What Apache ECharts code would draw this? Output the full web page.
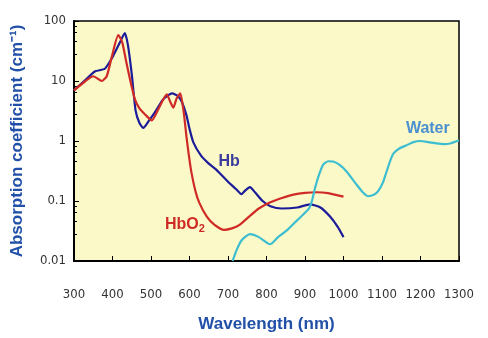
<!DOCTYPE html>
<html>
<head>
<meta charset="utf-8">
<script src="https://cdn.jsdelivr.net/npm/echarts@6/dist/echarts.min.js"></script>
<style>
  html, body { margin: 0; padding: 0; background: #fff; }
  #chart { width: 488px; height: 338px; }
</style>
</head>
<body>
<div id="chart"></div>
<script>
// wavelength (nm) / absorption coefficient (cm-1)
const hb = [
  [300, 7], [330, 10.5], [355, 14.5], [380, 16], [400, 25], [420, 45], [432, 63], [440, 40],
  [450, 13], [460, 3.2], [470, 2], [480, 1.65], [495, 2.2], [510, 3], [530, 4.8], [545, 5.8],
  [555, 6.2], [570, 5.6], [580, 4.5], [592, 2.7], [600, 1.6], [610, 0.95], [630, 0.57],
  [650, 0.42], [670, 0.33], [700, 0.21], [720, 0.16], [735, 0.13], [745, 0.15], [757, 0.17],
  [770, 0.14], [790, 0.1], [810, 0.082], [840, 0.075], [880, 0.078], [913, 0.088],
  [940, 0.078], [965, 0.055], [985, 0.037], [1000, 0.025]
];
const hbo2 = [
  [300, 7], [330, 10], [350, 12], [372, 10], [385, 12], [398, 25], [415, 58], [425, 45],
  [435, 22], [445, 11], [458, 5], [470, 3.5], [484, 2.8], [502, 2.2], [520, 3.5], [541, 6],
  [550, 4.5], [558, 3.6], [567, 5.2], [576, 6.2], [585, 3], [592, 1.2], [598, 0.6],
  [605, 0.3], [615, 0.15], [625, 0.095], [645, 0.055], [665, 0.04], [690, 0.033],
  [710, 0.035], [730, 0.04], [755, 0.055], [780, 0.075], [810, 0.095], [840, 0.112],
  [870, 0.128], [900, 0.137], [930, 0.14], [960, 0.135], [1000, 0.118]
];
const water = [
  [712, 0.01], [722, 0.015], [735, 0.022], [757, 0.028], [780, 0.025], [809, 0.019],
  [830, 0.025], [852, 0.032], [880, 0.048], [909, 0.073], [918, 0.1], [926, 0.165],
  [937, 0.28], [947, 0.4], [960, 0.46], [973, 0.455], [990, 0.4], [1008, 0.31],
  [1034, 0.187], [1050, 0.14], [1064, 0.12], [1080, 0.128], [1090, 0.146], [1102, 0.2],
  [1112, 0.31], [1122, 0.48], [1130, 0.62], [1145, 0.75], [1164, 0.85], [1180, 0.95],
  [1199, 1.0], [1220, 0.96], [1242, 0.91], [1260, 0.89], [1277, 0.91], [1290, 0.97], [1300, 1.03]
];
const yTicks = { 0.01: '0.01', 0.1: '0.1', 1: '1', 10: '10', 100: '100' };

// where the curve names sit
const hbLabel = [703, 0.46];
const hbo2Label = [588, 0.04];
const waterLabel = [1219, 1.6];

const tickFont = { color: '#333', fontSize: 13, fontFamily: 'DejaVu Sans Condensed, Liberation Sans Narrow, sans-serif' };
const titleFont = { color: '#2150a8', fontSize: 17, fontWeight: 'bold', fontFamily: 'Liberation Sans, Arial, sans-serif' };
const axisLine = { lineStyle: { color: '#000', width: 2 } };
const nameFont = 'bold 16px Liberation Sans, Arial, sans-serif';

const chart = echarts.init(document.getElementById('chart'));
chart.setOption({
  animation: false,
  grid: {
    left: 74, top: 21, right: 29, bottom: 74,
    show: true,
    backgroundColor: '#fcf9c9',
    borderColor: '#000',
    borderWidth: 1.5
  },
  xAxis: {
    type: 'value',
    min: 300, max: 1300, interval: 100,
    name: 'Wavelength (nm)',
    nameLocation: 'middle',
    nameGap: 55,
    nameTextStyle: titleFont,
    axisLine,
    axisTick: { inside: true, length: 5, lineStyle: { color: '#000' } },
    axisLabel: { ...tickFont, margin: 27, formatter: v => String(v) },
    splitLine: { show: false }
  },
  yAxis: {
    type: 'log',
    logBase: 10,
    min: 0.01, max: 100,
    name: 'Absorption coefficient (cm⁻¹)',
    nameLocation: 'middle',
    nameGap: 48,
    nameTextStyle: { ...titleFont, fontSize: 17 },
    axisLine,
    axisTick: { inside: true, length: 5, lineStyle: { color: '#000' } },
    minorTick: { show: true, splitNumber: 5, length: 3, lineStyle: { color: '#000' } },
    axisLabel: { ...tickFont, margin: 8, formatter: v => yTicks[+v.toPrecision(3)] || '' },
    splitLine: { show: false }
  },
  series: [
    {
      name: 'Hb', type: 'line', data: hb, showSymbol: false, smooth: 0.2,
      lineStyle: { color: '#1c1c9a', width: 2.2 }
    },
    {
      name: 'HbO2', type: 'line', data: hbo2, showSymbol: false, smooth: 0.2,
      lineStyle: { color: '#cf2a26', width: 2.2 }
    },
    {
      name: 'Water', type: 'line', data: water, showSymbol: false, smooth: 0.2,
      lineStyle: { color: '#3dbdd0', width: 2.2 }
    }
  ]
});

// curve names, placed from data coordinates
function nameText(coord, text, color, rich) {
  const p = chart.convertToPixel({ gridIndex: 0 }, coord);
  return {
    type: 'text', x: p[0], y: p[1],
    style: { text, fill: color, font: nameFont, align: 'center', verticalAlign: 'middle', rich: rich || {} }
  };
}
chart.setOption({
  graphic: [
    nameText(hbLabel, 'Hb', '#3a3a9c'),
    nameText(hbo2Label, '{m|HbO}{s|2}', '#cf2a26', {
      m: { font: nameFont, fill: '#cf2a26' },
      s: { font: 'bold 11px Liberation Sans, Arial, sans-serif', fill: '#cf2a26', padding: [9, 0, 0, 0] }
    }),
    nameText(waterLabel, 'Water', '#4a8fcf')
  ]
});
</script>
</body>
</html>
